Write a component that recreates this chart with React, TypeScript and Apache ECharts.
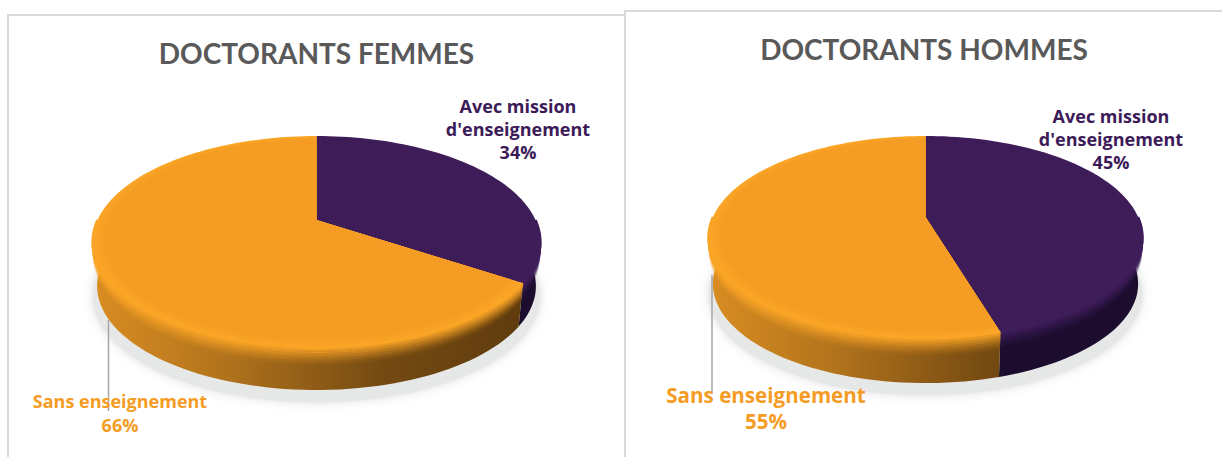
import React, { useEffect, useRef } from "react";
import * as echarts from "echarts";

const categories = ["Avec mission\nd'enseignement", "Sans enseignement"];
const femmesValues = [34.3, 65.7];
const hommesValues = [45.4, 54.6];
const chartTitles = ["DOCTORANTS FEMMES", "DOCTORANTS HOMMES"];
const sliceColors = ["#3D1C57", "#F59C25"];
const bevelRamps = [
  ["#3E1D59", "#3E1D58", "#3D1C58"],
  ["#FAA526", "#F8A226", "#F69F25"],
];
const bevelRadii = [1, 0.983, 0.966];
const fadeColors = ["#3E1D59", "#F9A426"];
const textColors = ["#3C1B58", "#F59C25"];

const FONT = "Lato, 'Open Sans', sans-serif";
const LABEL_FONT = "'Open Sans', Lato, sans-serif";

const layouts = [
  {
    cx: 316.5, cy: 220, A: 101.4, B: 219, p: 0.2076, h: 44.6,
    labelFont: 18, labels: [[518, 129], [120, 413]], lineHeights: [23, 23.2],
    leader: [108.5, 320, 411], orangeFont: 18,
  },
  {
    cx: 925.5, cy: 217, A: 97.2, B: 212.6, p: 0.2, h: 47,
    labelFont: 18, labels: [[1111, 139], [766, 408]], lineHeights: [23, 26.6],
    leader: [712, 275, 394], orangeFont: 20.6,
  },
];

function project(L: any, deg: number, r: number, dy: number, s: number) {
  const t = (deg * Math.PI) / 180;
  const u = Math.sin(t) * r;
  const v = Math.cos(t) * r;
  const d = 1 + L.p * v;
  return [L.cx + (L.B * s * u) / d, L.cy + dy - (L.A * s * v) / d];
}

function arc(L: any, a: number, b: number, r: number, dy: number, s: number) {
  const pts: number[][] = [];
  const n = Math.max(2, Math.ceil(Math.abs(b - a) / 2));
  for (let i = 0; i <= n; i++) pts.push(project(L, a + ((b - a) * i) / n, r, dy, s));
  return pts;
}

function buildSeries(values: number[], layoutIndex: number) {
  const L: any = layouts[layoutIndex];
  const total = values.reduce((x, y) => x + y, 0);
  const x0 = L.cx - L.B;
  const x1 = L.cx + L.B;
  return {
    type: "custom",
    coordinateSystem: "none",
    silent: true,
    clip: false,
    data: values.map((v, i) => ({ name: categories[i], value: [v] })),
    renderItem: (params: any, api: any) => {
      const i = params.dataIndex;
      let before = 0;
      for (let k = 0; k < i; k++) before += values[k];
      const start = (before / total) * 360;
      const end = ((before + api.value(0)) / total) * 360;
      const frontA = Math.max(start, 90);
      const frontB = Math.min(end, 270);
      const children: any[] = [];

      if (i === 0) {
        children.push({
          type: "polygon",
          shape: { points: arc(L, 0, 360, 1, L.h + 10, 1.0) },
          style: {
            fill: "#E6E8E8",
            shadowBlur: 10,
            shadowColor: "rgba(190,190,190,0.5)",
          },
        });
      }

      if (frontB > frontA) {
        const top = arc(L, frontA, frontB, 1, 0, 1);
        const bottom = arc(L, frontB, frontA, 1, L.h, 0.98);
        const fill =
          i === 0
            ? "#1C0D2E"
            : new echarts.graphic.LinearGradient(
                x0, 0, x1, 0,
                [
                  { offset: 0, color: "#D88C22" },
                  { offset: 0.3, color: "#B0721C" },
                  { offset: 0.65, color: "#744A12" },
                  { offset: 1, color: "#5E3A0E" },
                ],
                true,
              );
        children.push({
          type: "polygon",
          shape: { points: top.concat(bottom) },
          style: { fill },
        });
        for (let b = 9; b >= 0; b--) {
          children.push({
            type: "polyline",
            shape: { points: arc(L, frontA, frontB, 1, b * 2, 1 - b * 0.001) },
            style: {
              stroke: fadeColors[i],
              lineWidth: 2.4,
              opacity: Math.pow(1 - b / 10, 1.6),
              fill: null,
            },
          });
        }
      }

      const apex = project(L, 0, 0, 0, 1);
      bevelRadii.forEach((r, k) => {
        children.push({
          type: "polygon",
          shape: { points: [apex].concat(arc(L, start, end, r, 0, 1)) },
          style: { fill: bevelRamps[i][k] },
        });
      });
      children.push({
        type: "polygon",
        shape: { points: [apex].concat(arc(L, start, end, 0.95, 0, 1)) },
        style: { fill: sliceColors[i] },
      });

      if (i === 1) {
        children.push({
          type: "line",
          shape: { x1: L.leader[0], y1: L.leader[1], x2: L.leader[0], y2: L.leader[2] },
          style: { stroke: "#A6A6A6", lineWidth: 1.5 },
        });
      }

      const [lx, ly] = L.labels[i];
      const pct = Math.round((api.value(0) / total) * 100);
      children.push({
        type: "text",
        style: {
          text: `${categories[i]}\n${pct}%`,
          x: lx,
          y: ly,
          fill: textColors[i],
          align: "center",
          verticalAlign: "middle",
          font: `bold ${i === 1 ? L.orangeFont : L.labelFont}px ${LABEL_FONT}`,
          lineHeight: L.lineHeights[i],
        },
      });

      return { type: "group", children };
    },
  };
}

const panelLine = (x1: number, y1: number, x2: number, y2: number) => ({
  type: "line",
  z: -1,
  silent: true,
  shape: { x1, y1, x2, y2 },
  style: { stroke: "#D9D9D9", lineWidth: 2 },
});

export default function App() {
  const ref = useRef<HTMLDivElement>(null);
  useEffect(() => {
    document.body.style.margin = "0";
    const chart = echarts.init(ref.current!, null, { renderer: "svg" });
    chart.setOption({
      animation: false,
      backgroundColor: "#FFFFFF",
      title: [
        {
          text: chartTitles[0],
          left: 311.5,
          top: 34,
          textAlign: "center",
          textStyle: { color: "#595959", fontFamily: FONT, fontWeight: "bold", fontSize: 28 },
        },
        {
          text: chartTitles[1],
          left: 919,
          top: 30,
          textAlign: "center",
          textStyle: { color: "#595959", fontFamily: FONT, fontWeight: "bold", fontSize: 28 },
        },
      ],
      graphic: [
        panelLine(8, 15, 8, 457),
        panelLine(7, 15, 625, 15),
        panelLine(625, 11, 625, 457),
        panelLine(624, 11, 1222, 11),
      ],
      series: [buildSeries(femmesValues, 0), buildSeries(hommesValues, 1)],
    });
    return () => chart.dispose();
  }, []);
  return <div ref={ref} style={{ width: 1222, height: 457 }} />;
}
